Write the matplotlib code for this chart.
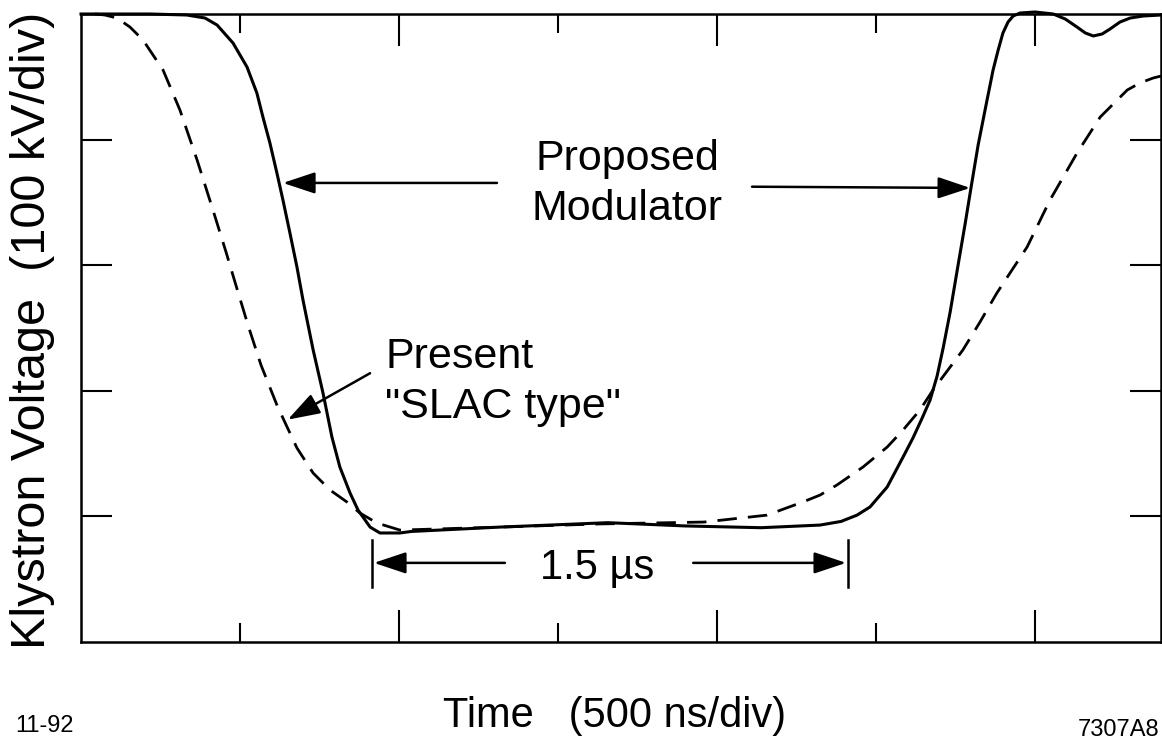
import matplotlib
matplotlib.use("Agg")
import matplotlib.pyplot as plt

# time in ns, voltage in kV (0 = top of the screen, pulse goes negative)
proposed_t = [0, 217, 333, 390, 428, 478, 522, 553, 572, 594, 616, 635, 657, 679, 698,
              730, 761, 789, 814, 846, 871, 909, 940, 1003, 1038, 1318, 1657, 1900, 2139,
              2324, 2390, 2440, 2481, 2535, 2585, 2616, 2645, 2670, 2692, 2711, 2733, 2758,
              2780, 2799, 2821, 2849, 2868, 2884, 2899, 2915, 2931, 2953, 3000, 3057,
              3095, 3132, 3158, 3183, 3211, 3236, 3267, 3299, 3340, 3396]
proposed_v = [0, 0, -0.8, -3.2, -8.8, -23.1, -42.2, -62.9, -82.0, -102.7, -126.6, -148.1,
              -174.4, -201.4, -227.7, -267.5, -301.8, -336.8, -360.7, -381.4, -394.9,
              -408.5, -413.2, -413.2, -412, -408.5, -405, -407.6, -409, -406.9, -404,
              -399, -392.5, -376.6, -352.7, -337.6, -321.7, -307.3, -288.2, -265.9, -237.3,
              -199.8, -167.2, -137.7, -104.3, -68.5, -44.6, -28.7, -15.1, -6.4, -1.6,
              0.8, 1.6, 0, -4, -10.4, -15.1, -17.5, -15.9, -11.9, -6.4, -3.2, -1.6, -0.8]

present_t = [44, 75, 113, 154, 195, 258, 311, 365, 415, 456, 487, 525, 566, 616, 648,
             679, 730, 783, 836, 877, 931, 1003, 1318, 1632, 1959, 2157, 2270, 2324,
             2377, 2459, 2535, 2585, 2638, 2679, 2773, 2827, 2880, 2975, 3047, 3132,
             3205, 3290, 3330, 3371, 3396]
present_v = [0, -0.8, -3.2, -10.4, -20.7, -44.6, -76.4, -116.2, -156.1, -189.5, -215.8,
             -247.6, -279.5, -311.3, -328.8, -345.5, -365.5, -379.0, -388.5, -397.3,
             -405.3, -410.9, -408.5, -406, -404.5, -399, -388.5, -383, -375, -360.7,
             -344.8, -331.2, -315.3, -299.4, -267.5, -245.2, -222.1, -185.5, -148.1,
             -110.7, -82.0, -60.5, -54.9, -51.0, -49.4]

x_major = [1000, 2000, 3000]
x_minor = [500, 1500, 2500]
y_ticks = [-400, -300, -200, -100]

plt.rcParams['font.family'] = ['Liberation Sans', 'DejaVu Sans']

fig = plt.figure(figsize=(11.62, 7.47), dpi=100)
ax = fig.add_axes([81 / 1162, 1 - 642 / 747, 1080 / 1162, 628 / 747])
ax.set_xlim(0, 3396)
ax.set_ylim(-500, 0)

ax.plot(proposed_t, proposed_v, color='black', lw=2.2, clip_on=False,
        solid_joinstyle='round')
ax.plot(present_t, present_v, color='black', lw=2.0, dashes=(7, 4), clip_on=False)

for s in ax.spines.values():
    s.set_linewidth(1.8)

ax.set_xticks(x_major)
ax.set_xticks(x_minor, minor=True)
ax.set_yticks(y_ticks)
ax.tick_params(axis='x', which='major', direction='in', length=23, width=1.5,
               top=True, labelbottom=False)
ax.tick_params(axis='x', which='minor', direction='in', length=14, width=1.5,
               top=True, labelbottom=False)
ax.tick_params(axis='y', direction='in', length=22, width=1.5, right=True, labelleft=False)

arrow = dict(arrowstyle='-|>,head_length=0.9,head_width=0.3', color='black', lw=1.8,
             mutation_scale=22, shrinkA=0, shrinkB=0)

# Proposed Modulator labels and arrows
ax.text(1717, -124, "Proposed", ha='center', va='baseline', fontsize=31)
ax.text(1717, -164, "Modulator", ha='center', va='baseline', fontsize=31)
ax.annotate('', xy=(635, -134.5), xytext=(1308, -134.5), arrowprops=arrow)
ax.annotate('', xy=(2796, -138.5), xytext=(2110, -137.5), arrowprops=arrow)

# Present SLAC type
ax.text(956, -282, "Present", ha='left', va='baseline', fontsize=31)
ax.text(956, -322, '"SLAC type"', ha='left', va='baseline', fontsize=31)
ax.annotate('', xy=(650, -323), xytext=(909, -286), arrowprops=arrow)

# 1.5 us width marker
ax.text(1623, -450, "1.5 \u00b5s", ha='center', va='baseline', fontsize=30)
ax.annotate('', xy=(921, -437), xytext=(1333, -437), arrowprops=arrow)
ax.annotate('', xy=(2406, -437), xytext=(1925, -437), arrowprops=arrow)
ax.plot([915, 915], [-419, -456], color='black', lw=1.8)
ax.plot([2412, 2412], [-419, -456], color='black', lw=1.8)

fig.text(615 / 1162, 1 - 727 / 747, "Time   (500 ns/div)", ha='center', va='baseline',
         fontsize=30)
fig.text(33 / 1162, 1 - 330 / 747, "Klystron Voltage  (100 kV/div)", rotation=90,
         ha='center', va='center', fontsize=35)
fig.text(15 / 1162, 1 - 732 / 747, "11-92", ha='left', va='baseline', fontsize=17)
fig.text(1159 / 1162, 1 - 736 / 747, "7307A8", ha='right', va='baseline', fontsize=17)

fig.savefig('out.png', dpi=100)
plt.close(fig)
